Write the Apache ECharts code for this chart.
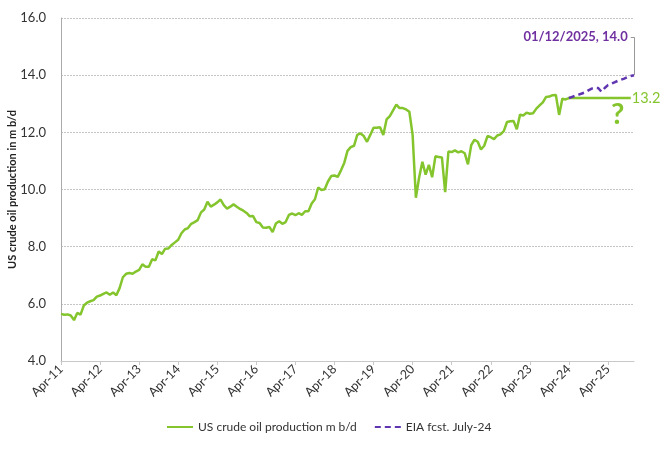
<!DOCTYPE html>
<html>
<head>
<meta charset="utf-8">
<script src="https://cdn.jsdelivr.net/npm/echarts@6/dist/echarts.min.js"></script>
<style>html,body{margin:0;padding:0;background:#fff}#c{width:667px;height:456px}</style>
</head>
<body>
<div id="c"></div>
<script>
// Monthly categories Apr-11 .. Dec-25
const monthNames = ['Jan','Feb','Mar','Apr','May','Jun','Jul','Aug','Sep','Oct','Nov','Dec'];
const categories = [];
for (let y = 2011, m = 3; ; m++) {
  if (m > 11) { m = 0; y++; }
  if (y > 2025) break;
  categories.push(monthNames[m] + '-' + String(y).slice(2));
}

// US crude oil production, m b/d (actuals Apr-11 .. Apr-24)
const production2011 = [5.65,5.62,5.63,5.59,5.43,5.68,5.62,5.94,6.04];
const production2012 = [6.09,6.13,6.25,6.29,6.35,6.40,6.32,6.40,6.30,6.55,6.93,7.05];
const production2013 = [7.08,7.05,7.13,7.19,7.38,7.30,7.30,7.56,7.52,7.83,7.74,7.93];
const production2014 = [7.94,8.06,8.15,8.24,8.47,8.60,8.65,8.80,8.86,8.93,9.20,9.30];
const production2015 = [9.57,9.40,9.47,9.55,9.65,9.45,9.33,9.40,9.48,9.40,9.32,9.26];
const production2016 = [9.18,9.06,9.07,8.86,8.83,8.67,8.66,8.69,8.51,8.81,8.89,8.80];
const production2017 = [8.86,9.11,9.16,9.10,9.17,9.11,9.24,9.24,9.51,9.66,10.07,9.98];
const production2018 = [10.01,10.28,10.47,10.49,10.44,10.67,10.93,11.35,11.48,11.53,11.91,11.96];
const production2019 = [11.87,11.67,11.91,12.16,12.16,12.18,11.91,12.45,12.57,12.77,12.97,12.85];
const production2020 = [12.85,12.80,12.72,11.91,9.71,10.42,10.97,10.52,10.86,10.43,11.16,11.14];
const production2021 = [11.12,9.91,11.33,11.31,11.37,11.30,11.34,11.27,10.88,11.55,11.74,11.67];
const production2022 = [11.40,11.53,11.87,11.83,11.76,11.89,11.93,12.04,12.36,12.39,12.40,12.11];
const production2023 = [12.62,12.59,12.69,12.65,12.67,12.83,12.94,13.05,13.24,13.25,13.30,13.31];
const production2024 = [12.61,13.18,13.15];
// flat scenario May-24 .. Dec-25
const flatScenario = [13.2,13.2,13.2,13.2,13.2,13.2,13.2,13.2,13.2,13.2,13.2,13.2,13.2,13.2,13.2,13.2,13.2,13.2,13.2,13.2];

// EIA forecast July-24, Apr-24 .. Dec-25
const eiaStart = 'Apr-24';
const eiaForecast = [13.20,13.24,13.28,13.32,13.36,13.40,13.47,13.53,13.56,13.55,13.42,13.55,13.65,13.70,13.75,13.80,13.84,13.88,13.93,13.97,14.00];
const eiaEndDate = '01/12/2025';

const yTicks = {min: 4, max: 16, interval: 2};

const production = [].concat(production2011, production2012, production2013, production2014,
  production2015, production2016, production2017, production2018, production2019,
  production2020, production2021, production2022, production2023, production2024, flatScenario);

const startIdx = categories.indexOf(eiaStart);
const forecast = categories.map((c, i) => i >= startIdx ? eiaForecast[i - startIdx] : null);
const lastIdx = categories.length - 1;
const eiaLast = eiaForecast[eiaForecast.length - 1];
const annotY = 15.33;

const green = '#84C52E';
const purple = '#6035B0';
const font = 'Lato';

const chart = echarts.init(document.getElementById('c'), null, {renderer: 'canvas'});
chart.setOption({
  animation: false,
  textStyle: {fontFamily: font},
  grid: {left: 61, right: 33, top: 18, bottom: 95, containLabel: false, outerBoundsMode: 'none'},
  legend: {
    left: 161, top: 416,
    itemWidth: 26, itemHeight: 10, itemGap: 17,
    itemStyle: {opacity: 0},
    textStyle: {fontFamily: font, fontSize: 12, color: '#333'},
    data: ['US crude oil production m b/d', 'EIA fcst. July-24']
  },
  xAxis: {
    type: 'category',
    data: categories,
    boundaryGap: false,
    axisLine: {lineStyle: {color: '#c8c8c8', width: 1}},
    axisTick: {show: true, interval: 11, length: 4, lineStyle: {color: '#c8c8c8'}},
    axisLabel: {interval: 11, rotate: 45, fontSize: 12.5, color: '#333', margin: 6, fontFamily: font},
    splitLine: {show: false}
  },
  yAxis: {
    type: 'value',
    min: yTicks.min, max: yTicks.max, interval: yTicks.interval,
    name: 'US crude oil production in m b/d',
    nameLocation: 'middle', nameGap: 43, nameMoveOverlap: false,
    nameTextStyle: {fontWeight: 'bold', fontSize: 11, color: '#222', fontFamily: font},
    axisLine: {show: true, lineStyle: {color: '#aaa'}},
    axisTick: {show: false},
    axisLabel: {formatter: v => v.toFixed(1), fontSize: 13, color: '#333', margin: 15, fontFamily: font},
    splitLine: {show: true, lineStyle: {color: '#c4c4c4', width: 1, type: [2, 1]}}
  },
  series: [
    {
      name: 'US crude oil production m b/d',
      type: 'line',
      data: production,
      symbol: 'none',
      lineStyle: {color: green, width: 2.5},
      itemStyle: {color: green},
      z: 3,
      endLabel: {
        show: true,
        formatter: p => Number(p.value).toFixed(1),
        color: green, fontSize: 14.5, fontFamily: font, distance: 1
      },
      markPoint: {
        silent: true,
        symbol: 'circle', symbolSize: 0,
        data: [{coord: [171, 12.62], value: '?'}],
        label: {show: true, formatter: '?', color: green, fontSize: 29, fontWeight: 'bold', fontFamily: font, position: 'inside'}
      }
    },
    {
      name: 'EIA fcst. July-24',
      type: 'line',
      data: forecast,
      symbol: 'none',
      connectNulls: false,
      lineStyle: {color: purple, width: 2.5, type: [6, 4]},
      itemStyle: {color: purple},
      z: 4,
      markLine: {
        silent: true,
        symbol: 'none',
        animation: false,
        label: {show: false},
        lineStyle: {color: '#999', width: 1, type: 'solid'},
        data: [
          [{coord: [lastIdx, eiaLast]}, {coord: [lastIdx, annotY]}],
          [{coord: [lastIdx, annotY]}, {coord: [lastIdx - 1, annotY]}]
        ]
      },
      markPoint: {
        silent: true,
        symbol: 'circle', symbolSize: 0,
        data: [{coord: [lastIdx - 1, annotY]}],
        label: {
          show: true, position: 'left', distance: 3,
          formatter: eiaEndDate + ', ' + eiaLast.toFixed(1),
          color: '#7030A0', fontSize: 13, fontWeight: 'bold', fontFamily: font
        }
      }
    }
  ]
});
</script>
</body>
</html>
